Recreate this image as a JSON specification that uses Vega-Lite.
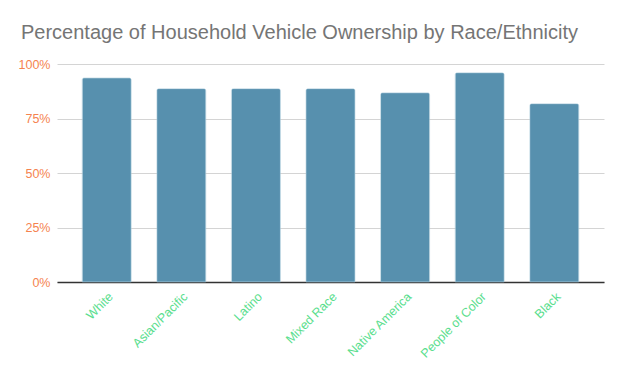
{
  "$schema": "https://vega.github.io/schema/vega-lite/v6.json",
  "width": 547,
  "height": 218,
  "autosize": "none",
  "padding": {"left": 57, "top": 64, "right": 20, "bottom": 103},
  "background": "white",
  "title": {
    "text": "Percentage of Household Vehicle Ownership by Race/Ethnicity",
    "anchor": "start",
    "frame": "group",
    "dx": -36,
    "offset": 15,
    "font": "Liberation Sans",
    "fontSize": 20,
    "fontWeight": "normal",
    "color": "#757575"
  },
  "data": {
    "values": [
      {"group": "White", "pct": 0.936},
      {"group": "Asian/Pacific", "pct": 0.887},
      {"group": "Latino", "pct": 0.887},
      {"group": "Mixed Race", "pct": 0.887},
      {"group": "Native America", "pct": 0.868},
      {"group": "People of Color", "pct": 0.960},
      {"group": "Black", "pct": 0.818}
    ]
  },
  "mark": {"type": "bar", "color": "#5790ae", "cornerRadiusTopLeft": 2, "cornerRadiusTopRight": 2, "stroke": "#a9c8d8", "strokeWidth": 0.5},
  "encoding": {
    "x": {
      "field": "group",
      "type": "nominal",
      "sort": null,
      "scale": {"paddingInner": 0.343, "paddingOuter": 0.338},
      "axis": {
        "title": null,
        "labelAngle": -45,
        "labelColor": "#5ade8e",
        "labelFont": "Liberation Sans",
        "labelFontSize": 12.5,
        "ticks": false,
        "labelPadding": 8,
        "domainColor": "#333333",
        "domainWidth": 1.5
      }
    },
    "y": {
      "field": "pct",
      "type": "quantitative",
      "scale": {"domain": [0, 1]},
      "axis": {
        "title": null,
        "format": ".0%",
        "values": [0, 0.25, 0.5, 0.75, 1],
        "labelColor": "#f5834f",
        "labelFont": "Liberation Sans",
        "labelFontSize": 12.5,
        "ticks": false,
        "labelPadding": 7,
        "domain": false,
        "gridColor": "#d4d4d4",
        "gridWidth": 1
      }
    }
  },
  "config": {"view": {"stroke": null}}
}
